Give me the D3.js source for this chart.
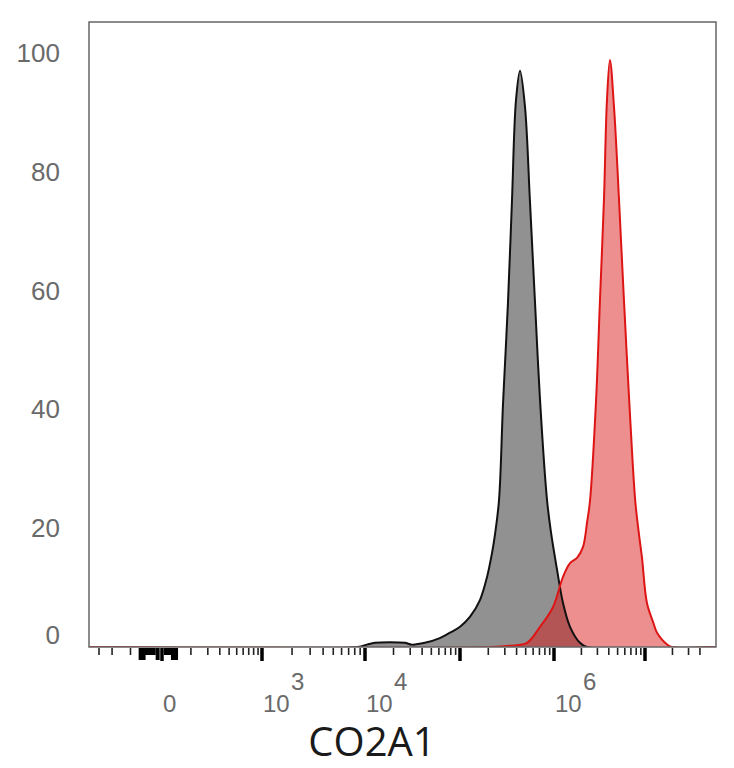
<!DOCTYPE html>
<html>
<head>
<meta charset="utf-8">
<script src="https://cdn.jsdelivr.net/npm/d3@7"></script>
<style>
  body { margin: 0; background: #fff; }
  svg { display: block; }
</style>
</head>
<body>
<div id="chart"></div>
<script>
// data (intensity values, % of max)
var blackX = [-400, 8500, 10500, 12700, 18300, 26400, 31200, 42700, 61400, 78500, 100000, 128000, 163000, 194000, 219000, 236000, 260000, 287000, 324000, 357000, 394000, 435000, 491000, 555000, 628000, 710000, 840000, 925000, 1080000, 1256000, 1500000, 1930000, 2310000, 60000000];
var blackY = [0, 0, 0.4, 0.7, 0.8, 0.7, 0.4, 0.7, 1.5, 2.4, 3.4, 5.1, 7.9, 11.8, 15.8, 19, 24.7, 41, 58, 75, 92, 97, 91, 75, 58, 41.6, 25, 19.5, 13, 7.4, 3.4, 0.7, 0, 0];

var redX = [-400, 209000, 340000, 516000, 710000, 975000, 1256000, 1500000, 1790000, 2080000, 2310000, 2490000, 2900000, 3200000, 3540000, 3820000, 4120000, 4560000, 5180000, 5870000, 6700000, 7800000, 8500000, 9270000, 10500000, 12400000, 13550000, 17900000, 19800000, 60000000];
var redY = [0, 0, 0.2, 0.7, 3.4, 6.7, 11.8, 14.1, 15.0, 16.8, 21, 24.7, 41.6, 58.4, 75.3, 92.1, 98.8, 91, 75.3, 58.4, 41.6, 24.7, 19.5, 15, 7.4, 4, 2.4, 0.3, 0, 0];

// ticks
var majorTicks = [0, 1e3, 1e4, 1e5, 1e6, 1e7];
var minorTicks = [-300, -200, -100,
	100, 200, 300, 400, 500, 600, 700, 800, 900,
	2e3, 3e3, 4e3, 5e3, 6e3, 7e3, 8e3, 9e3,
	2e4, 3e4, 4e4, 5e4, 6e4, 7e4, 8e4, 9e4,
	2e5, 3e5, 4e5, 5e5, 6e5, 7e5, 8e5, 9e5,
	2e6, 3e6, 4e6, 5e6, 6e6, 7e6, 8e6, 9e6,
	2e7, 3e7, 4e7];
var denseTicks = [-60, -50, -40, -30, -20, -10, 10, 20, 30, 40];
var denseLong = [-60, -50, -10, 30, 40];
var xLabels = [{v: 0, base: '0', exp: ''}, {v: 1e3, base: '10', exp: '3'}, {v: 1e4, base: '10', exp: '4'}, {v: 1e6, base: '10', exp: '6'}];
var yTicks = [0, 20, 40, 60, 80, 100];
var xTitle = 'CO2A1';

// chart settings
var chart_width = 734;
var chart_height = 768;
var p_left = 89, p_right = 716, p_top = 22, p_bottom = 647;
var xMin = -400, xMax = 6e7;

// biexponential-ish x: symlog transform, then piecewise linear to pixels
var sym = d3.scaleSymlog().constant(100).domain([0, 1e7]).range([0, Math.log1p(1e5)]);
var x_scale = d3.scaleLinear()
	.domain([xMin, -300, 0, 1e3, 1e4, 1e5, 1e6, 1e7, xMax].map(sym))
	.range([p_left, 99, 162, 262, 365, 460, 554, 645, p_right]);
var xp = (v) => x_scale(sym(v));

var y_scale = d3.scaleLinear()
	.domain([0, 105.2])
	.range([p_bottom, p_top]);

var svg = d3.select('#chart')
	.append('svg')
	.attr('width', chart_width)
	.attr('height', chart_height);

svg.append('clipPath').attr('id', 'plot-clip')
	.append('rect')
	.attr('x', p_left).attr('y', p_top)
	.attr('width', p_right - p_left).attr('height', p_bottom - p_top);

var area = d3.area()
	.x((d) => xp(d[0]))
	.y0(y_scale(0))
	.y1((d) => y_scale(d[1]))
	.curve(d3.curveCatmullRom);
var line = d3.line()
	.x((d) => xp(d[0]))
	.y((d) => y_scale(d[1]))
	.curve(d3.curveCatmullRom);

var black = d3.zip(blackX, blackY);
var red = d3.zip(redX, redY);

var g = svg.append('g').attr('clip-path', 'url(#plot-clip)');
g.append('path').datum(black).attr('d', area).attr('fill', 'rgba(0,0,0,0.43)');
g.append('path').datum(red).attr('d', area).attr('fill', 'rgba(220,20,20,0.48)');

// frame
svg.append('rect')
	.attr('x', p_left).attr('y', p_top)
	.attr('width', p_right - p_left).attr('height', p_bottom - p_top)
	.attr('fill', 'none')
	.attr('stroke', '#666')
	.attr('stroke-width', 1.5);

g.append('path').datum(black).attr('d', line).attr('fill', 'none').attr('stroke', '#111').attr('stroke-width', 2);
g.append('path').datum(red).attr('d', line).attr('fill', 'none').attr('stroke', '#dd1515').attr('stroke-width', 2);

// x ticks
var ticks = svg.append('g');
ticks.selectAll('.minor')
	.data(minorTicks)
	.enter()
	.append('line')
	.attr('x1', xp).attr('x2', xp)
	.attr('y1', p_bottom + 1).attr('y2', p_bottom + 8)
	.attr('stroke', '#222').attr('stroke-width', 1.6);
ticks.selectAll('.dense')
	.data(denseTicks)
	.enter()
	.append('line')
	.attr('x1', xp).attr('x2', xp)
	.attr('y1', p_bottom + 1).attr('y2', (d) => p_bottom + (denseLong.includes(d) ? 13 : 8))
	.attr('stroke', '#000').attr('stroke-width', 4);
ticks.selectAll('.major')
	.data(majorTicks)
	.enter()
	.append('line')
	.attr('x1', xp).attr('x2', xp)
	.attr('y1', p_bottom + 1).attr('y2', p_bottom + 14)
	.attr('stroke', '#000').attr('stroke-width', 3.5);

// x labels
var xl = svg.append('g')
	.attr('font-family', 'Liberation Sans, Arial, sans-serif')
	.attr('fill', '#6a6a6a');
xl.selectAll('text.base')
	.data(xLabels)
	.enter()
	.append('text')
	.attr('x', (d) => xp(d.v) + 1)
	.attr('y', 712)
	.attr('font-size', 24)
	.text((d) => d.base);
xl.selectAll('text.exp')
	.data(xLabels.filter((d) => d.exp))
	.enter()
	.append('text')
	.attr('x', (d) => xp(d.v) + 29)
	.attr('y', 690)
	.attr('font-size', 24)
	.text((d) => d.exp);

// y labels
svg.append('g')
	.attr('font-family', 'Liberation Sans, Arial, sans-serif')
	.attr('fill', '#6a6a6a')
	.selectAll('text')
	.data(yTicks)
	.enter()
	.append('text')
	.attr('x', 60)
	.attr('y', (d) => Math.min(y_scale(d), p_bottom - 12) + 9)
	.attr('text-anchor', 'end')
	.attr('font-size', 26)
	.text((d) => d);

// axis title
svg.append('text')
	.attr('x', 372)
	.attr('y', 756)
	.attr('text-anchor', 'middle')
	.attr('font-family', 'Open Sans, Noto Sans, sans-serif')
	.attr('font-size', 40)
	.attr('fill', '#1a1a1a')
	.text(xTitle);
</script>
</body>
</html>
